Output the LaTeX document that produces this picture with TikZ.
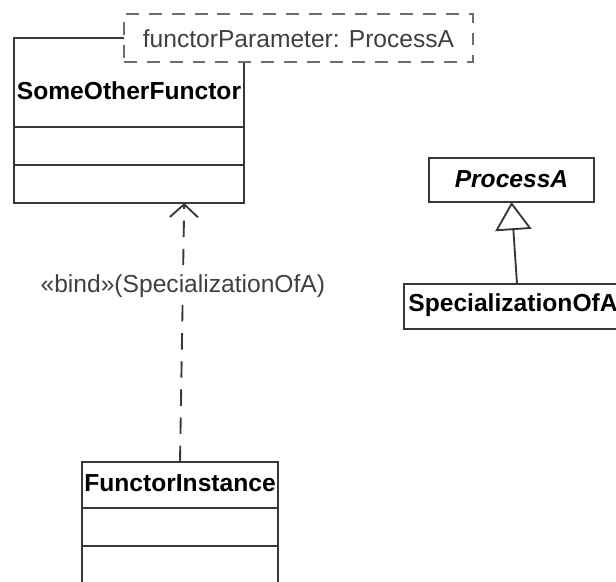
\documentclass[tikz,border=0pt]{standalone}
\usepackage{fontspec}
\setmainfont{Liberation Sans}
\usetikzlibrary{arrows.meta,calc}

\definecolor{umlline}{HTML}{383838}
\definecolor{umldash}{HTML}{6E6E6E}
\definecolor{umltext}{HTML}{404040}
\newcommand{\umlsize}{\fontsize{21}{25}\selectfont}

\tikzset{
  umlbox/.style={draw=umlline, line width=1.8pt, fill=white, inner sep=0pt, outer sep=0pt, anchor=north west},
  umlname/.style={umlbox, font=\umlsize\bfseries},
  umlslot/.style={umlbox, minimum height=1.14cm},
  tplbox/.style={draw=umldash, line width=2.1pt, dash pattern=on 11pt off 8.5pt, fill=white,
    inner sep=0pt, outer sep=0pt, anchor=north west, text=umltext, font=\umlsize},
  bindlabel/.style={fill=white, text=umltext, inner sep=1pt, font=\umlsize},
  dependency/.style={draw=umlline, line width=1.6pt, dash pattern=on 14pt off 10pt,
    -{Straight Barb[length=11pt,width=24pt]}},
  realizes/.style={draw=umlline, line width=1.6pt, -{Triangle[open,length=24pt,width=31pt]}},
}

\begin{document}
\begin{tikzpicture}[x=0.03cm, y=-0.03cm]
  \useasboundingbox (0,0) rectangle (616,581);

  % template class
  \node[umlname, minimum width=6.9cm, text height=1.83cm, text depth=0.84cm] (sof-name) at (14,38) {SomeOtherFunctor};
  \node[umlslot, minimum width=6.9cm] (sof-attr) at (sof-name.south west) {};
  \node[umlslot, minimum width=6.9cm] (sof-ops) at (sof-attr.south west) {};
  \node[tplbox, minimum width=10.47cm, text height=0.99cm, text depth=0.45cm] (sof-param) at (124,14) {functorParameter: ProcessA};

  % bound class
  \node[umlname, minimum width=5.88cm, text height=0.87cm, text depth=0.51cm] (fi-name) at (82,462) {FunctorInstance};
  \node[umlslot, minimum width=5.88cm] (fi-attr) at (fi-name.south west) {};
  \node[umlslot, minimum width=5.88cm] (fi-ops) at (fi-attr.south west) {};

  % abstract process and its specialization
  \node[umlname, font=\umlsize\bfseries\itshape, minimum width=4.95cm, text height=0.87cm, text depth=0.45cm] (procA) at (429,158) {ProcessA};
  \node[umlname, minimum width=6.54cm, text height=0.81cm, text depth=0.54cm] (spec) at (404,284) {SpecializationOfA};

  \draw[dependency] (fi-name.north) -- ($(sof-ops.south west)!0.74!(sof-ops.south east)$)
    node[bindlabel, pos=0.68] (bind) {«bind»(SpecializationOfA)};
  \draw[realizes] ($(spec.north west)+(113,0)$) -- (procA.south);
\end{tikzpicture}
\end{document}
